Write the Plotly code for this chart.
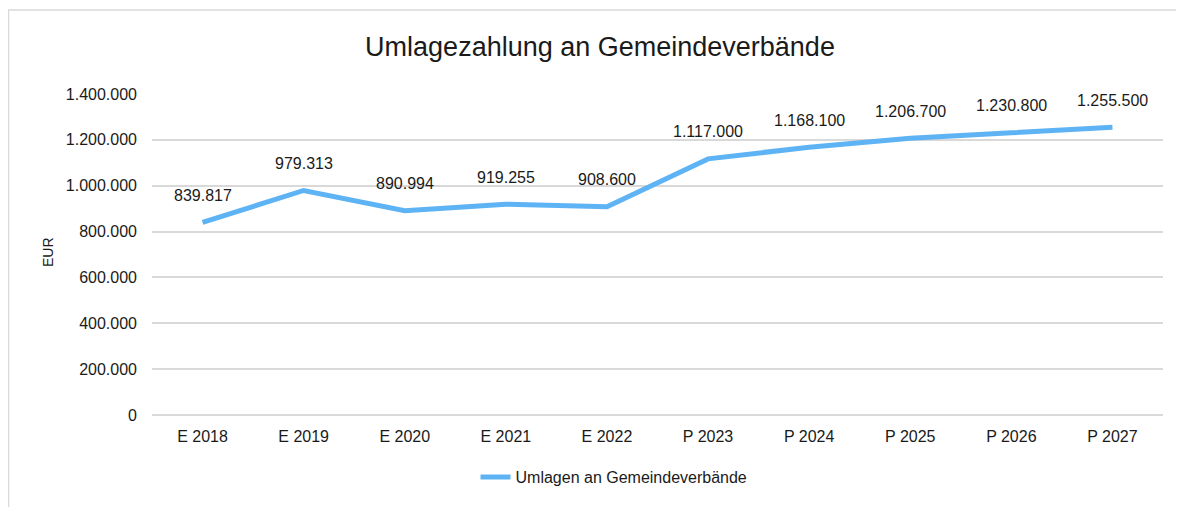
import plotly.graph_objects as go

categories = ["E 2018", "E 2019", "E 2020", "E 2021", "E 2022",
              "P 2023", "P 2024", "P 2025", "P 2026", "P 2027"]
umlagen = [839817, 979313, 890994, 919255, 908600,
           1117000, 1168100, 1206700, 1230800, 1255500]
y_ticks = [0, 200000, 400000, 600000, 800000, 1000000, 1200000, 1400000]


def de_fmt(v):
    return f"{v:,}".replace(",", ".")


# page has an 8px body margin, so the figure is a bit smaller than the window
W, H = 1176, 499
L, R, T, B = 144, 21, 86, 92
pw, ph = W - L - R, H - T - B

fig = go.Figure()
fig.add_trace(go.Scatter(
    x=categories, y=umlagen, mode="lines",
    name="Umlagen an Gemeindeverbände",
    line=dict(color="#5EB3F4", width=5),
))

for c, v in zip(categories, umlagen):
    fig.add_annotation(x=c, y=v, text=de_fmt(v), showarrow=False,
                       yshift=27, font=dict(size=16, color="#1a1a1a"))

# y axis title
fig.add_annotation(xref="paper", yref="paper", x=(40 - L) / pw, y=(T + ph - 244) / ph,
                   xanchor="center", yanchor="middle",
                   text="EUR", textangle=-90, showarrow=False,
                   font=dict(size=14, color="#1a1a1a"))

# outer chart frame (only left and top edges visible)
fig.add_shape(type="rect", xref="paper", yref="paper",
              x0=(0.5 - L) / pw, x1=(1400 - L) / pw,
              y0=-(700 - (T + ph)) / ph, y1=(T + ph - 2) / ph,
              line=dict(color="#d9d9d9", width=1.5), layer="below")

fig.update_layout(
    width=W, height=H,
    margin=dict(l=L, r=R, t=T, b=B),
    paper_bgcolor="white", plot_bgcolor="white",
    font=dict(family="Liberation Sans, Arial, sans-serif", size=16, color="#1a1a1a"),
    title=dict(text="Umlagezahlung an Gemeindeverbände", x=592 / W, xref="container",
               xanchor="center", y=1 - 39 / H, yanchor="middle",
               font=dict(size=27, color="#1a1a1a")),
    showlegend=True,
    legend=dict(orientation="h", x=(606 - L) / pw, xanchor="center", xref="paper",
                y=-(469 - (T + ph)) / ph, yanchor="middle",
                font=dict(size=16)),
    xaxis=dict(range=[-0.5, 9.5], showgrid=False, showline=False, zeroline=False,
               ticks="", ticklabelstandoff=10, tickfont=dict(size=16)),
    yaxis=dict(range=[0, 1400000], tickvals=y_ticks,
               ticktext=[de_fmt(t) for t in y_ticks],
               showgrid=True, gridcolor="#d9d9d9", gridwidth=1.5,
               zeroline=True, zerolinecolor="#d9d9d9", zerolinewidth=1.5,
               showline=False, ticks="", ticklabelstandoff=14,
               tickfont=dict(size=16)),
)

fig.write_html("out.html")
